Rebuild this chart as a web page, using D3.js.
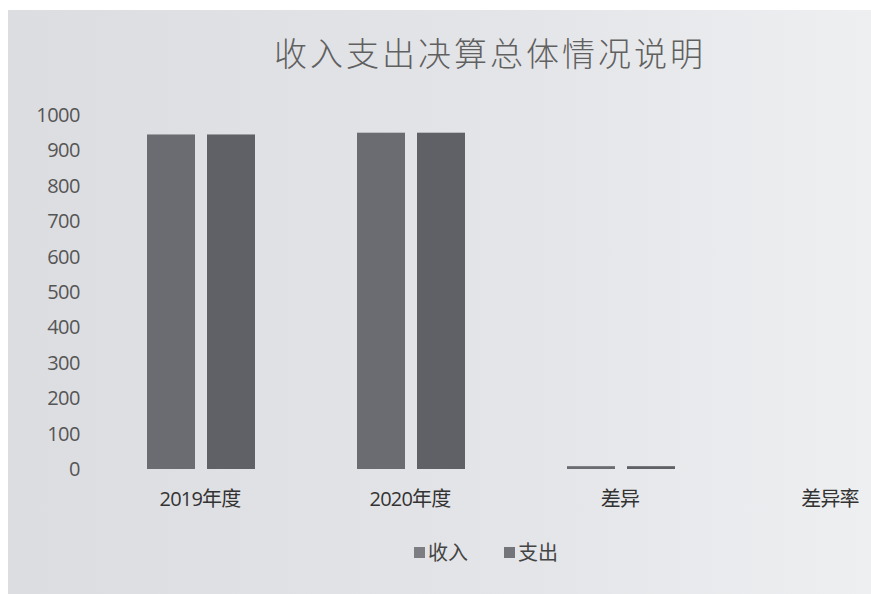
<!DOCTYPE html>
<html>
<head>
<meta charset="utf-8">
<script src="https://cdn.jsdelivr.net/npm/d3@7"></script>
<style>
  body { margin: 0; background: #fff; }
  svg { display: block; }
</style>
</head>
<body>
<div id="chart"></div>
<script>
const categories = ["2019年度", "2020年度", "差异", "差异率"]
const seriesNames = ["收入", "支出"]
const income = [945, 950, 8, null]
const expense = [945, 950, 8, null]
const yTicks = [0, 100, 200, 300, 400, 500, 600, 700, 800, 900, 1000]
const title = "收入支出决算总体情况说明"

const W = 871, H = 594
const colors = ["#6b6c71", "#606166"]

const svg = d3.select("#chart").append("svg")
  .attr("width", W)
  .attr("height", H)

// scanned page background
const grad = svg.append("defs").append("linearGradient")
  .attr("id", "bg").attr("x1", 0).attr("x2", 1).attr("y1", 0).attr("y2", 0)
grad.append("stop").attr("offset", "0%").attr("stop-color", "#dcdde1")
grad.append("stop").attr("offset", "60%").attr("stop-color", "#e4e5e8")
grad.append("stop").attr("offset", "100%").attr("stop-color", "#eeeff1")
svg.append("rect")
  .attr("x", 8).attr("y", 10)
  .attr("width", W - 8).attr("height", H - 10)
  .attr("fill", "url(#bg)")

const x = d3.scaleBand()
  .domain(categories)
  .range([95, 935])

const x1 = d3.scaleBand()
  .domain(seriesNames)
  .range([52, 160])
  .paddingInner(0.2)

const y = d3.scaleLinear()
  .domain([0, 1000])
  .range([469, 115])

svg.append("text")
  .attr("x", 490)
  .attr("y", 66)
  .attr("text-anchor", "middle")
  .attr("font-family", "Noto Sans CJK SC")
  .attr("font-size", 33)
  .attr("font-weight", 300)
  .attr("letter-spacing", 3)
  .attr("fill", "#606060")
  .text(title)

const yAxis = svg.append("g")
  .attr("transform", "translate(86,0)")
  .call(d3.axisLeft(y).tickValues(yTicks).tickFormat(d3.format("d")).tickSize(0).tickPadding(6))
yAxis.select(".domain").remove()
yAxis.selectAll("text")
  .attr("font-family", "Open Sans, Noto Sans")
  .attr("font-size", 20)
  .attr("letter-spacing", -0.5)
  .attr("fill", "#555")

const xAxis = svg.append("g")
  .attr("transform", "translate(0,469)")
  .call(d3.axisBottom(x).tickSize(0).tickPadding(23))
xAxis.select(".domain").remove()
xAxis.selectAll("text")
  .attr("font-family", "Open Sans, Noto Sans CJK SC")
  .attr("font-size", 20)
  .attr("letter-spacing", -0.8)
  .attr("fill", "#333")

const rows = categories.map((c, i) => ({ cat: c, values: [income[i], expense[i]] }))

svg.append("g")
  .selectAll("g")
  .data(rows)
  .join("g")
  .attr("transform", d => `translate(${x(d.cat)},0)`)
  .selectAll("rect")
  .data(d => d.values.map((v, j) => ({ name: seriesNames[j], value: v, j })).filter(e => e.value != null))
  .join("rect")
  .attr("x", d => x1(d.name))
  .attr("width", x1.bandwidth())
  .attr("y", d => y(d.value))
  .attr("height", d => y(0) - y(d.value))
  .attr("fill", d => colors[d.j])

// legend
const legend = svg.append("g")
  .attr("transform", "translate(414,553)")
const items = legend.selectAll("g")
  .data(seriesNames)
  .join("g")
  .attr("transform", (d, i) => `translate(${i * 90},0)`)
items.append("rect")
  .attr("x", 0).attr("y", -6)
  .attr("width", 11).attr("height", 11)
  .attr("fill", (d, i) => colors[i])
  .attr("opacity", 0.85)
items.append("text")
  .attr("x", 14)
  .attr("y", 0)
  .attr("dy", "0.35em")
  .attr("font-family", "Noto Sans CJK SC")
  .attr("font-size", 20)
  .attr("fill", "#444")
  .text(d => d)
</script>
</body>
</html>
